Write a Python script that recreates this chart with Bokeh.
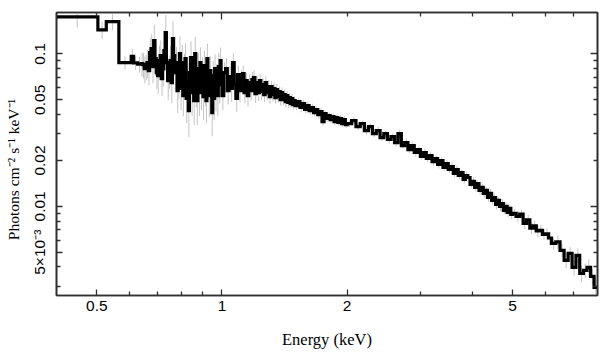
import math
from bokeh.plotting import figure
from bokeh.models import FixedTicker, LogAxis, CustomJSTickFormatter, ColumnDataSource
from bokeh.embed import file_html
from bokeh.resources import INLINE

# ---------------- data ----------------
# lower bin edges (keV), by energy segment
edges_a = [0.40, 0.503, 0.527, 0.565, 0.605, 0.613, 0.627]
edges_b = [0.640, 0.645, 0.650, 0.655, 0.660, 0.665, 0.670, 0.675, 0.680, 0.685,
           0.690, 0.695, 0.700, 0.705, 0.710, 0.715, 0.720, 0.725, 0.730, 0.735,
           0.740, 0.745, 0.750, 0.755, 0.760, 0.765, 0.770, 0.775, 0.780, 0.785,
           0.790, 0.795, 0.800, 0.805, 0.810, 0.815, 0.820, 0.825, 0.830, 0.835,
           0.840, 0.845, 0.850, 0.855, 0.860, 0.865, 0.870, 0.875, 0.880, 0.885,
           0.890, 0.895, 0.900, 0.905, 0.910, 0.915, 0.920, 0.925, 0.930, 0.935,
           0.940, 0.945, 0.950, 0.955, 0.960, 0.965, 0.970, 0.975, 0.980, 0.985,
           0.990, 0.995]
edges_c1 = [1.00, 1.01, 1.02, 1.03, 1.04, 1.05, 1.06, 1.07, 1.08, 1.09,
            1.10, 1.11, 1.12, 1.13, 1.14, 1.15, 1.16, 1.17, 1.18, 1.19,
            1.20, 1.21, 1.22, 1.23, 1.24, 1.25, 1.26, 1.27, 1.28, 1.29,
            1.30, 1.31, 1.32, 1.33, 1.34, 1.35, 1.36, 1.37, 1.38, 1.39,
            1.40, 1.41, 1.42, 1.43, 1.44, 1.45, 1.46, 1.47, 1.48, 1.49]
edges_c2 = [1.50, 1.52, 1.54, 1.56, 1.58, 1.60, 1.62, 1.64, 1.66, 1.68,
            1.70, 1.72, 1.74, 1.76, 1.78, 1.80, 1.82, 1.84, 1.86, 1.88,
            1.90, 1.92, 1.94, 1.96, 1.98]
edges_d = [2.00, 2.05, 2.10, 2.15, 2.20, 2.25, 2.30, 2.35, 2.40, 2.45,
           2.50, 2.55, 2.60, 2.65, 2.70, 2.75, 2.80, 2.85, 2.90, 2.95,
           3.00, 3.05, 3.10, 3.15, 3.20, 3.25, 3.30, 3.35, 3.40, 3.45,
           3.50, 3.55, 3.60, 3.65, 3.70, 3.75, 3.80, 3.85, 3.90, 3.95,
           4.00, 4.05, 4.10, 4.15, 4.20, 4.25, 4.30, 4.35, 4.40, 4.45,
           4.50, 4.55, 4.60, 4.65, 4.70, 4.75, 4.80, 4.85, 4.90, 4.95]
edges_e = [5.0, 5.1, 5.2, 5.3, 5.4, 5.5, 5.6, 5.7, 5.8, 5.9, 6.0, 6.1,
           6.2, 6.35, 6.5, 6.65, 6.8, 6.95, 7.1, 7.25, 7.4, 7.55, 7.7, 7.85]
last_edge = [8.0]

# unfolded flux (photons cm^-2 s^-1 keV^-1) per bin
flux_a = [0.175, 0.144, 0.163, 0.0877, 0.0964, 0.0873, 0.0857]
flux_b = [0.0864, 0.0851, 0.0801, 0.0826, 0.0877, 0.0777, 0.1020, 0.1083, 0.0826, 0.1222,
          0.0932, 0.0754, 0.0721, 0.0904, 0.0975, 0.0689, 0.0801, 0.1051, 0.1379, 0.0877,
          0.0668, 0.0777, 0.0904, 0.0649, 0.1260, 0.0975, 0.0754, 0.0877, 0.0575, 0.0689,
          0.1005, 0.0593, 0.0877, 0.0533, 0.0777, 0.0932, 0.0510, 0.0668, 0.0425, 0.0754,
          0.0946, 0.0558, 0.0721, 0.0494, 0.1005, 0.0620, 0.0494, 0.0801, 0.0558, 0.0877,
          0.0593, 0.0754, 0.0525, 0.0838, 0.0620, 0.0494, 0.0932, 0.0689, 0.0533, 0.0777,
          0.0593, 0.0412, 0.0721, 0.0510, 0.0801, 0.0575, 0.0689, 0.0533, 0.0826, 0.0629,
          0.0904, 0.0710]
flux_c1 = [0.0533, 0.0754, 0.0801, 0.0575, 0.0710, 0.0593, 0.0877, 0.0629, 0.0510, 0.0732,
           0.0575, 0.0689, 0.0743, 0.0558, 0.0668, 0.0533, 0.0649, 0.0575, 0.0679, 0.0700,
           0.0549, 0.0649, 0.0558, 0.0668, 0.0566, 0.0629, 0.0541, 0.0649, 0.0558, 0.0611,
           0.0525, 0.0611, 0.0541, 0.0593, 0.0517, 0.0584, 0.0525, 0.0566, 0.0502, 0.0558,
           0.0502, 0.0541, 0.0487, 0.0533, 0.0480, 0.0517, 0.0472, 0.0510, 0.0465, 0.0494]
flux_c2 = [0.0458, 0.0487, 0.0445, 0.0472, 0.0432, 0.0458, 0.0425, 0.0445, 0.0412, 0.0432,
           0.0400, 0.0419, 0.0360, 0.0406, 0.0377, 0.0394, 0.0371, 0.0388, 0.0360, 0.0382,
           0.0355, 0.0377, 0.0349, 0.0371, 0.0344]
flux_d = [0.03493, 0.03655, 0.03338, 0.03493, 0.03143, 0.03338, 0.03004, 0.03143, 0.02828, 0.03004,
          0.02744, 0.02871, 0.02622, 0.03004, 0.02506, 0.02622, 0.02359, 0.02506, 0.02255, 0.02359,
          0.02123, 0.02255, 0.02060, 0.02155, 0.01968, 0.02060, 0.01881, 0.01998, 0.01798, 0.01910,
          0.01745, 0.01825, 0.01642, 0.01745, 0.01594, 0.01667, 0.01500, 0.01594, 0.01546, 0.01391,
          0.01456, 0.01330, 0.01412, 0.01271, 0.01330, 0.01215, 0.01271, 0.01143, 0.01215, 0.01093,
          0.01143, 0.01029, 0.01093, 0.00998, 0.01044, 0.00940, 0.00998, 0.00912, 0.00969, 0.00885]
flux_e = [0.00898, 0.00860, 0.00890, 0.00772, 0.00815, 0.00720, 0.00745, 0.00690, 0.00695, 0.00655,
          0.00660, 0.00620, 0.00571, 0.00585, 0.00514, 0.00442, 0.00491, 0.00398, 0.00477, 0.00363,
          0.00380, 0.00398, 0.00347, 0.00294]

# relative 1-sigma errors per bin
err_a = [0.15, 0.13, 0.12, 0.10, 0.12, 0.10, 0.12]
err_b = [0.18, 0.19, 0.20, 0.19, 0.21, 0.20, 0.24, 0.25, 0.22, 0.27,
         0.23, 0.22, 0.24, 0.25, 0.26, 0.23, 0.24, 0.27, 0.30, 0.25,
         0.26, 0.24, 0.25, 0.27, 0.30, 0.26, 0.25, 0.27, 0.29, 0.26,
         0.30, 0.28, 0.31, 0.27, 0.29, 0.26, 0.31, 0.28, 0.33, 0.27,
         0.28, 0.30, 0.27, 0.31, 0.29, 0.28, 0.31, 0.27, 0.30, 0.26,
         0.28, 0.26, 0.30, 0.25, 0.27, 0.29, 0.25, 0.26, 0.28, 0.25,
         0.27, 0.30, 0.25, 0.28, 0.24, 0.27, 0.25, 0.27, 0.23, 0.25,
         0.22, 0.23]
err_c1 = [0.20, 0.17, 0.17, 0.19, 0.17, 0.18, 0.15, 0.17, 0.18, 0.15,
          0.16, 0.14, 0.13, 0.15, 0.13, 0.15, 0.13, 0.14, 0.12, 0.12,
          0.13, 0.11, 0.12, 0.11, 0.12, 0.10, 0.11, 0.10, 0.11, 0.10,
          0.10, 0.09, 0.10, 0.09, 0.09, 0.09, 0.09, 0.08, 0.09, 0.08,
          0.08, 0.08, 0.08, 0.07, 0.08, 0.07, 0.07, 0.07, 0.07, 0.07]
err_c2 = [0.07, 0.06, 0.07, 0.06, 0.06, 0.06, 0.06, 0.06, 0.06, 0.05,
          0.06, 0.05, 0.06, 0.05, 0.05, 0.05, 0.05, 0.05, 0.05, 0.05,
          0.05, 0.05, 0.05, 0.05, 0.05]
err_d = [0.05, 0.06, 0.05, 0.05, 0.06, 0.05, 0.05, 0.06, 0.05, 0.05,
         0.06, 0.05, 0.05, 0.06, 0.05, 0.06, 0.05, 0.05, 0.06, 0.05,
         0.05, 0.06, 0.05, 0.05, 0.06, 0.05, 0.06, 0.05, 0.05, 0.06,
         0.05, 0.06, 0.05, 0.06, 0.06, 0.05, 0.06, 0.06, 0.05, 0.06,
         0.06, 0.06, 0.05, 0.06, 0.06, 0.07, 0.06, 0.06, 0.07, 0.06,
         0.06, 0.07, 0.06, 0.07, 0.07, 0.06, 0.07, 0.07, 0.06, 0.07]
err_e = [0.07, 0.08, 0.07, 0.08, 0.08, 0.09, 0.08, 0.09, 0.09, 0.08,
         0.09, 0.10, 0.09, 0.10, 0.10, 0.11, 0.10, 0.12, 0.11, 0.12,
         0.11, 0.13, 0.12, 0.13]

# axis ticks and labels
x_label_ticks = [0.5, 1, 2, 5]
x_tick_labels = ["0.5", "1", "2", "5"]
x_minor = [0.6, 0.7, 0.8, 0.9, 3, 4, 6, 7]
x_decades = [1]
x_top_minor = [0.5, 0.6, 0.7, 0.8, 0.9, 2, 3, 4, 5, 6, 7]
y_label_ticks = [0.005, 0.01, 0.02, 0.05, 0.1]
y_tick_labels = ["5×10⁻³", "0.01", "0.02", "0.05", "0.1"]
y_minor = [0.003, 0.004, 0.006, 0.007, 0.008, 0.009, 0.03, 0.04, 0.06, 0.07, 0.08, 0.09]
y_decades = [0.01, 0.1]
y_right_minor = [0.003, 0.004, 0.005, 0.006, 0.007, 0.008, 0.009,
                 0.02, 0.03, 0.04, 0.05, 0.06, 0.07, 0.08, 0.09]
x_limits = (0.4, 8.0)
y_limits = (0.0026, 0.187)
x_title = "Energy (keV)"
y_title = "Photons cm⁻² s⁻¹ keV⁻¹"

# ---------------- assemble ----------------
energy_edges = edges_a + edges_b + edges_c1 + edges_c2 + edges_d + edges_e + last_edge
flux = flux_a + flux_b + flux_c1 + flux_c2 + flux_d + flux_e
rel_err = err_a + err_b + err_c1 + err_c2 + err_d + err_e
assert len(energy_edges) == len(flux) + 1 == len(rel_err) + 1

centers = [math.sqrt(lo * hi) for lo, hi in zip(energy_edges[:-1], energy_edges[1:])]
err_src = ColumnDataSource(dict(
    x=centers,
    lo=[f * (1 - e) for f, e in zip(flux, rel_err)],
    hi=[f * (1 + e) for f, e in zip(flux, rel_err)],
))

AXIS_COLOR = "#303030"
TICK_FONT = "Liberation Sans"
LABEL_FONT = "Liberation Serif"

p = figure(width=609, height=357, x_axis_type="log", y_axis_type="log",
           x_range=x_limits, y_range=y_limits,
           output_backend="svg", toolbar_location=None,
           min_border_left=56, min_border_right=12,
           min_border_top=12, min_border_bottom=62)
p.xgrid.visible = False
p.ygrid.visible = False
p.outline_line_color = AXIS_COLOR
p.outline_line_width = 1.6
p.background_fill_color = "white"
p.border_fill_color = "white"

p.segment(x0="x", y0="lo", x1="x", y1="hi", source=err_src,
          line_color="#c4c4c4", line_width=1)
p.step(x=energy_edges, y=flux + [flux[-1]], mode="after",
       line_color="black", line_width=3.2, line_join="miter")


def label_formatter(ticks, labels):
    return CustomJSTickFormatter(args=dict(tv=ticks, tl=labels), code="""
        for (let i = 0; i < tv.length; i++) {
            if (Math.abs(tv[i] / tick - 1) < 1e-6) { return tl[i]; }
        }
        return '';
    """)


def style_axis(ax, major_len, minor_len):
    ax.axis_line_color = AXIS_COLOR
    ax.axis_line_width = 1.6
    ax.major_tick_line_color = AXIS_COLOR
    ax.minor_tick_line_color = AXIS_COLOR
    ax.major_tick_line_width = 1.3
    ax.minor_tick_line_width = 1.3
    ax.major_tick_in = major_len
    ax.major_tick_out = 0
    ax.minor_tick_in = minor_len
    ax.minor_tick_out = 0
    ax.major_label_text_font = TICK_FONT
    ax.major_label_text_font_size = "15.5px"
    ax.major_label_text_color = "black"
    ax.axis_label_text_font = LABEL_FONT
    ax.axis_label_text_font_style = "normal"
    ax.axis_label_text_font_size = "16.5px"
    ax.axis_label_text_color = "black"


# bottom axis
xb = p.xaxis[0]
xb.ticker = FixedTicker(ticks=x_label_ticks, minor_ticks=x_minor)
xb.formatter = label_formatter(x_label_ticks, x_tick_labels)
style_axis(xb, 6, 4)
xb.major_label_standoff = 5
xb.axis_label = x_title
xb.axis_label_standoff = 16

# left axis
yl = p.yaxis[0]
yl.ticker = FixedTicker(ticks=y_label_ticks, minor_ticks=y_minor)
yl.formatter = label_formatter(y_label_ticks, y_tick_labels)
style_axis(yl, 6, 4)
yl.major_label_orientation = "vertical"
yl.major_label_standoff = 8
yl.axis_label = y_title + "\u00a0" * 8
yl.axis_label_text_font_size = "15.5px"
yl.axis_label_standoff = 7

# top axis (ticks only)
xt = LogAxis(ticker=FixedTicker(ticks=x_decades, minor_ticks=x_top_minor),
             formatter=label_formatter([], []))
style_axis(xt, 7, 4)
xt.major_label_standoff = 0
p.add_layout(xt, "above")

# right axis (ticks only)
yr = LogAxis(ticker=FixedTicker(ticks=y_decades, minor_ticks=y_right_minor),
             formatter=label_formatter([], []))
style_axis(yr, 7, 4)
yr.major_label_standoff = 0
p.add_layout(yr, "right")

open("out.html", "w").write(file_html(p, INLINE))
